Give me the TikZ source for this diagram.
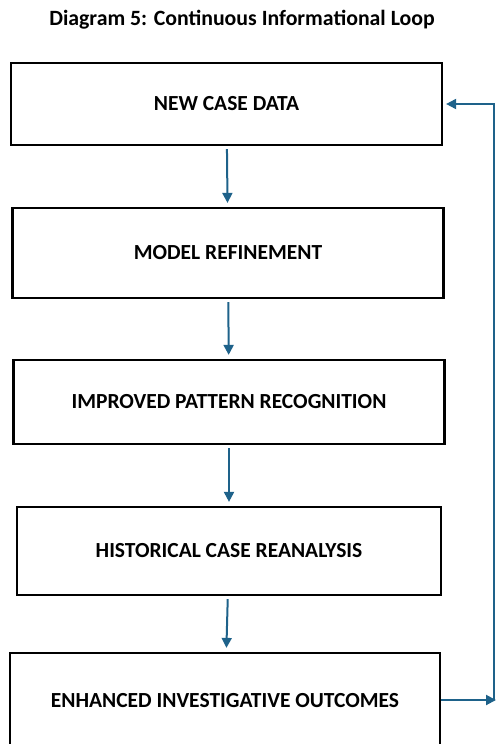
\documentclass[tikz,border=0pt]{standalone}
\usepackage{fontspec}
\setmainfont{Carlito}
\usetikzlibrary{arrows.meta}
\definecolor{loopblue}{RGB}{30,98,138}

\begin{document}
\begin{tikzpicture}[x=1pt,y=-1pt,
    stage/.style ={rectangle, draw, line width=2.2pt, minimum width=431pt, minimum height=86pt,
                   inner sep=0pt, font=\bfseries\fontsize{21.5}{25}\selectfont},
    flow/.style ={draw=loopblue, line width=2pt, -{Triangle[length=10pt,width=10pt]}}]
   \useasboundingbox (0,0) rectangle (497,744);
   \node[font=\bfseries\fontsize{21.8}{26}\selectfont] (title) at (242,20) {Diagram 5: Continuous Informational Loop};
   \node[stage, minimum height=82pt] (data) at (226.5,104) {NEW CASE DATA};
   \node[stage, minimum height=90pt] (model) at (228,253) {MODEL REFINEMENT};
   \node[stage, minimum height=84pt] (pattern) at (229,402) {IMPROVED PATTERN RECOGNITION};
   \node[stage, minimum width=424pt, minimum height=88pt] (history) at (229,551) {HISTORICAL CASE REANALYSIS};
   \node[stage, minimum width=430pt, minimum height=96pt] (outcome) at (225,701) {ENHANCED INVESTIGATIVE OUTCOMES};
   \coordinate (back) at (494,700);
   \draw[flow, shorten <=3pt, shorten >=4pt] (data) -- (model);
   \draw[flow, shorten <=3pt, shorten >=4pt] (model) -- (pattern);
   \draw[flow, shorten <=3pt, shorten >=4pt] (pattern) -- (history);
   \draw[flow, shorten <=3pt, shorten >=4pt] (history) -- (outcome);
   \draw[flow] (outcome.east |- back) -- ([xshift=2pt]back);
   \draw[flow, shorten >=3pt] (back) |- (data.east);
 \end{tikzpicture}
\end{document}
